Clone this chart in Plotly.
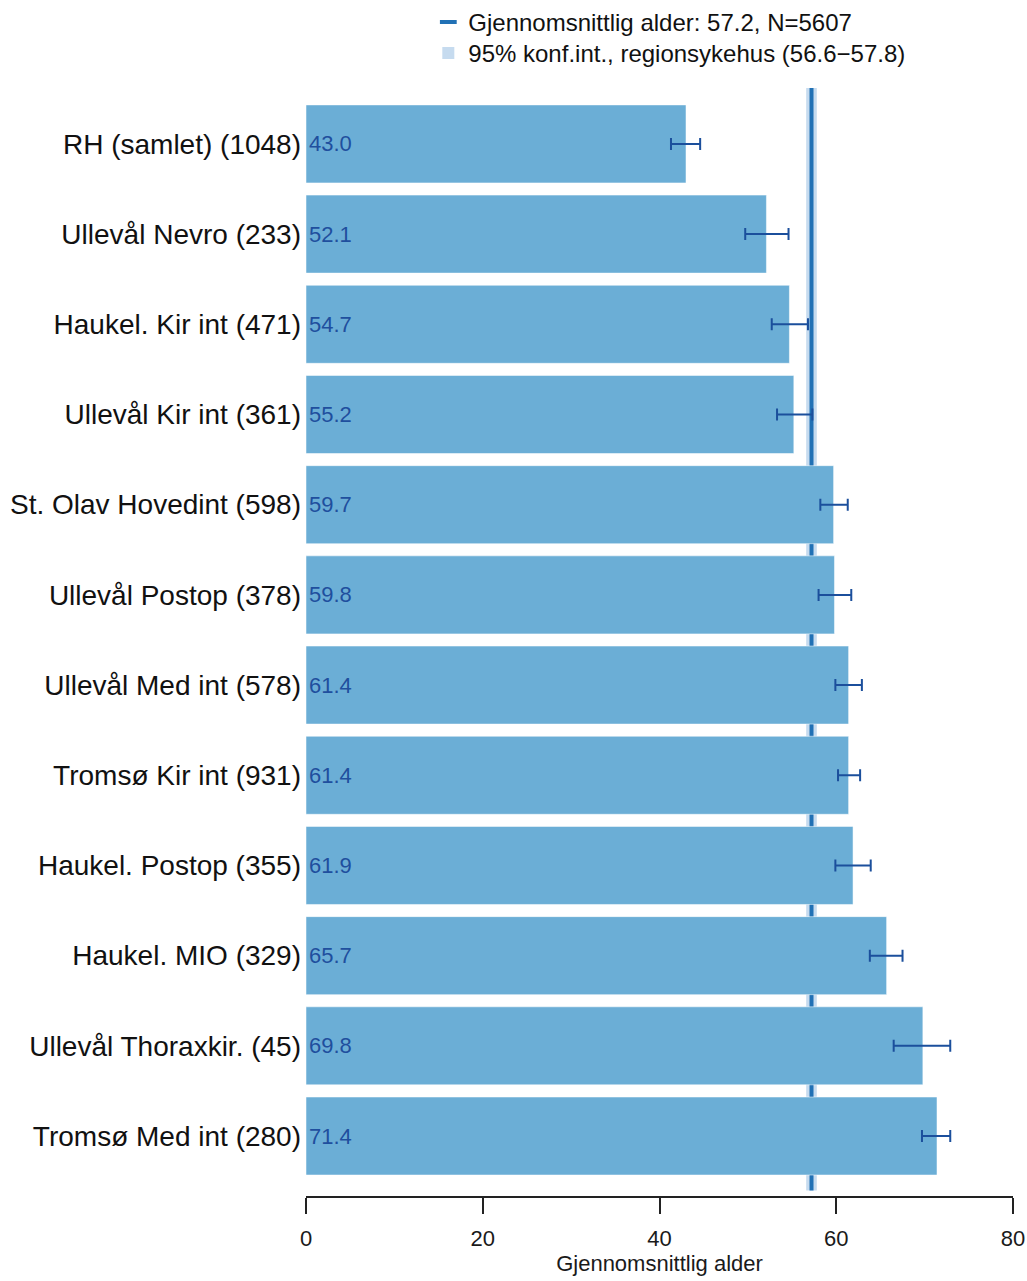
import plotly.graph_objects as go

categories = ["RH (samlet) (1048)", "Ullevål Nevro (233)", "Haukel. Kir int (471)",
              "Ullevål Kir int (361)", "St. Olav Hovedint (598)", "Ullevål Postop (378)",
              "Ullevål Med int (578)", "Tromsø Kir int (931)", "Haukel. Postop (355)",
              "Haukel. MIO (329)", "Ullevål Thoraxkir. (45)", "Tromsø Med int (280)"]
mean_age = [43.0, 52.1, 54.7, 55.2, 59.7, 59.8, 61.4, 61.4, 61.9, 65.7, 69.8, 71.4]
ci_lower = [41.3, 49.7, 52.7, 53.3, 58.2, 58.0, 59.9, 60.2, 59.9, 63.8, 66.5, 69.7]
ci_upper = [44.6, 54.6, 56.8, 57.3, 61.3, 61.7, 62.9, 62.7, 63.9, 67.5, 72.9, 72.9]
overall_mean = 57.2
overall_n = 5607
overall_ci = [56.6, 57.8]
x_ticks = [0, 20, 40, 60, 80]

pos = list(range(len(categories)))
err_plus = [u - m for u, m in zip(ci_upper, mean_age)]
err_minus = [m - l for m, l in zip(mean_age, ci_lower)]

FONT = "Liberation Sans, Arial, sans-serif"

fig = go.Figure()
fig.add_trace(go.Bar(
    x=mean_age, y=pos, orientation="h", width=0.865,
    marker=dict(color="#6baed6", line=dict(color="rgba(255,255,255,0.5)", width=1)),
    text=[f"{v:.1f}" for v in mean_age], textposition="inside",
    insidetextanchor="start", textangle=0, constraintext="none",
    textfont=dict(size=22, color="#1f4f9e", family=FONT),
    error_x=dict(type="data", symmetric=False, array=err_plus, arrayminus=err_minus,
                 color="#1b4f9c", thickness=2, width=6),
    showlegend=False, hoverinfo="skip",
))
fig.add_trace(go.Scatter(
    x=[None], y=[None], mode="markers", name=f"Gjennomsnittlig alder: {overall_mean}, N={overall_n}",
    marker=dict(symbol="line-ew", size=12, line=dict(color="#2171b5", width=4)),
    legend="legend",
))
fig.add_trace(go.Scatter(
    x=[None], y=[None], mode="markers",
    name=f"95% konf.int., regionsykehus ({overall_ci[0]}\u2212{overall_ci[1]})",
    marker=dict(symbol="square", size=12, color="#c6dbef"),
    legend="legend2",
))

fig.add_shape(type="rect", xref="x", yref="paper", x0=overall_ci[0], x1=overall_ci[1],
              y0=0.005, y1=1, fillcolor="#c6dbef", line_width=0, layer="below")
fig.add_shape(type="line", xref="x", yref="paper", x0=overall_mean, x1=overall_mean,
              y0=0.005, y1=1, line=dict(color="#2171b5", width=4), layer="below")

legend_common = dict(x=0.173, yref="container", xanchor="left", yanchor="top",
                     font=dict(size=24, color="#111"), bgcolor="rgba(0,0,0,0)",
                     itemwidth=30)

fig.update_layout(
    width=1027, height=1281,
    margin=dict(l=306, r=14, t=88, b=85),
    plot_bgcolor="white", paper_bgcolor="white",
    font=dict(family=FONT, color="#1a1a1a"),
    xaxis=dict(range=[0, 80], tickvals=x_ticks, showgrid=False, zeroline=False,
               showline=True, linecolor="#222", linewidth=1.5, automargin=False,
               ticks="outside", ticklen=16, tickwidth=1.5, tickcolor="#222",
               ticklabelstandoff=6,
               tickfont=dict(size=22), title=dict(text="Gjennomsnittlig alder",
               font=dict(size=22), standoff=2)),
    yaxis=dict(range=[11.665, -0.62], tickvals=pos, ticktext=categories,
               showgrid=False, zeroline=False, showline=False, ticks="",
               automargin=False, ticklabelstandoff=4,
               tickfont=dict(size=28, color="#111")),
    legend=dict(y=1.0, **legend_common),
    legend2=dict(y=1 - 31 / 1281, **legend_common),
)

fig.write_html("out.html")
